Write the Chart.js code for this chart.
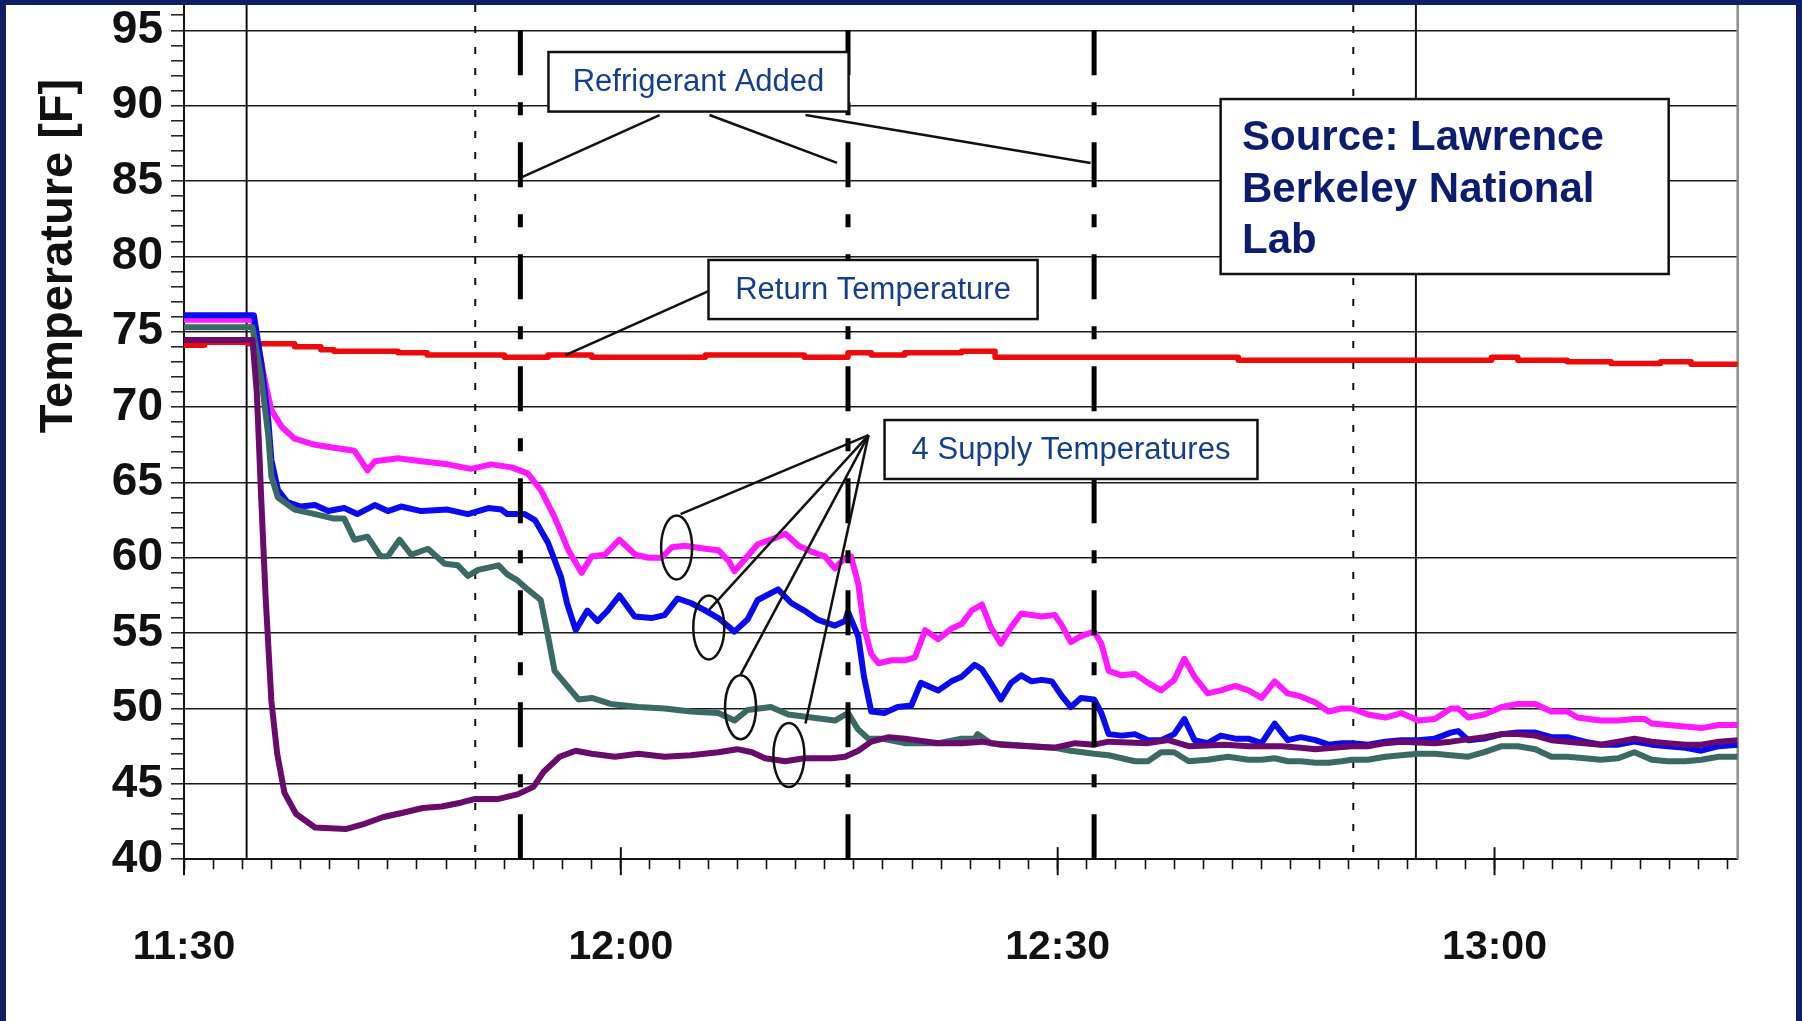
<!DOCTYPE html>
<html>
<head>
<meta charset="utf-8">
<title>Supply and return temperatures</title>
<script src="https://cdn.jsdelivr.net/npm/chart.js@4.4.1/dist/chart.umd.min.js"></script>
<style>
  html, body { margin: 0; padding: 0; background: #0e1f63; }
  canvas { display: block; }
</style>
</head>
<body>
<canvas id="tempChart" width="1802" height="1021"></canvas>
<script>
// time is in minutes after 11:30
const xTickLabels = ['11:30', '12:00', '12:30', '13:00'];
const xLabelMinutes = [0, 30, 60, 90];
const yTickLabels = [40, 45, 50, 55, 60, 65, 70, 75, 80, 85, 90, 95];

// vertical markers
const refrigerantMinutes = [23.1, 45.6, 62.5];
const solidGridMinutes = [4.3, 84.6];
const dottedGridMinutes = [20.0, 80.3];

// return temperature
const returnMinutes = [0, 1.4, 4.4, 7.6, 9.4, 10.3, 14.7, 16.7, 22.0, 25.0,
  28.0, 35.8, 42.6, 45.6, 47.2, 49.5, 53.4, 55.7, 72.4, 89.8,
  91.6, 95.0, 98.0, 101.4, 103.5, 106.7];
const returnTemps = [74.1, 74.3, 74.2, 74.0, 73.8, 73.7, 73.6, 73.45, 73.3, 73.45,
  73.3, 73.45, 73.3, 73.6, 73.45, 73.6, 73.7, 73.3, 73.1, 73.3,
  73.1, 73.0, 72.9, 73.0, 72.85, 72.8];

// supply 1 (magenta)
const magentaMinutes = [0, 4.7, 5.0, 5.5, 6.0, 6.7, 7.6, 9.0, 10.3, 11.7,
  12.2, 12.6, 13.1, 14.7, 16.3, 18.1, 19.7, 21.1, 22.5, 23.6,
  24.5, 25.45, 26.4, 27.3, 28.0, 28.9, 29.9, 31.0, 31.9, 32.8,
  33.5, 34.4, 35.8, 36.7, 37.4, 37.8, 38.7, 39.4, 40.3, 41.3,
  42.2, 43.1, 44.0, 44.7, 45.4, 45.8, 46.3, 46.7, 47.2, 47.7,
  48.6, 49.5, 50.2, 50.9, 51.8, 52.7, 53.4, 54.1, 54.8, 55.4,
  56.1, 56.8, 57.5, 58.2, 58.9, 59.8, 60.3, 60.9, 61.6, 62.5,
  63.0, 63.5, 64.4, 65.3, 66.2, 67.1, 68.0, 68.7, 69.4, 70.3,
  71.2, 72.2, 73.1, 74.0, 74.9, 75.8, 76.7, 77.7, 78.6, 79.5,
  80.2, 81.3, 82.5, 83.6, 84.75, 85.9, 87.0, 87.5, 88.2, 89.3,
  90.5, 91.6, 92.8, 93.9, 95.0, 95.7, 97.3, 98.5, 99.6, 100.3,
  100.8, 101.9, 103.1, 104.2, 105.4, 106.7];
const magentaTemps = [75.8, 75.8, 74.5, 72.0, 69.8, 68.7, 67.9, 67.5, 67.3, 67.1,
  66.4, 65.8, 66.4, 66.6, 66.4, 66.2, 65.9, 66.2, 66.0, 65.6,
  64.5, 62.7, 60.5, 59.0, 60.1, 60.2, 61.2, 60.2, 60.0, 60.0,
  60.7, 60.8, 60.6, 60.5, 59.8, 59.1, 60.1, 60.9, 61.2, 61.6,
  60.8, 60.4, 60.1, 59.3, 60.0, 60.1, 58.3, 55.4, 53.6, 53.0,
  53.2, 53.2, 53.4, 55.2, 54.6, 55.3, 55.6, 56.5, 56.9, 55.4,
  54.3, 55.4, 56.3, 56.2, 56.1, 56.2, 55.5, 54.4, 54.8, 55.1,
  54.3, 52.5, 52.2, 52.3, 51.7, 51.2, 51.9, 53.3, 52.1, 51.0,
  51.2, 51.5, 51.2, 50.7, 51.8, 51.0, 50.8, 50.4, 49.8, 50.0,
  50.0, 49.6, 49.4, 49.7, 49.2, 49.3, 50.0, 50.0, 49.4, 49.6,
  50.1, 50.3, 50.3, 49.8, 49.8, 49.4, 49.2, 49.2, 49.3, 49.3,
  49.0, 48.9, 48.8, 48.7, 48.9, 48.9];

// supply 2 (blue)
const blueMinutes = [0, 4.8, 5.3, 5.8, 6.0, 6.45, 7.1, 8.0, 9.0, 9.9,
  11.0, 11.9, 13.1, 14.0, 14.9, 16.3, 18.1, 19.5, 20.9, 21.8,
  22.2, 23.4, 24.1, 25.0, 25.9, 26.3, 26.9, 27.7, 28.4, 29.1,
  29.9, 30.95, 32.1, 33.0, 33.9, 34.8, 35.8, 36.7, 37.8, 38.7,
  39.4, 40.8, 41.7, 42.6, 43.5, 44.7, 45.4, 45.6, 46.3, 46.7,
  47.2, 48.1, 49.0, 49.95, 50.6, 51.8, 52.7, 53.4, 54.3, 54.8,
  55.4, 56.1, 56.8, 57.5, 58.2, 58.9, 59.6, 60.3, 60.9, 61.6,
  62.5, 63.0, 63.5, 64.4, 65.3, 66.2, 67.1, 68.0, 68.7, 69.4,
  70.3, 71.2, 72.2, 73.1, 74.0, 74.9, 75.8, 76.7, 77.7, 78.6,
  79.5, 80.2, 81.3, 82.5, 83.6, 84.75, 85.9, 87.0, 87.5, 88.2,
  89.3, 90.5, 91.6, 92.8, 93.9, 95.0, 96.2, 97.3, 98.5, 99.6,
  100.8, 101.9, 103.1, 104.2, 105.4, 106.7];
const blueTemps = [76.1, 76.1, 73.0, 69.0, 66.5, 64.5, 63.7, 63.4, 63.5, 63.1,
  63.3, 62.9, 63.5, 63.1, 63.4, 63.1, 63.2, 62.9, 63.3, 63.2,
  62.9, 62.9, 62.5, 61.0, 58.7, 57.0, 55.2, 56.5, 55.8, 56.5,
  57.5, 56.1, 56.0, 56.2, 57.3, 57.0, 56.5, 56.0, 55.1, 55.9,
  57.2, 57.9, 57.0, 56.5, 55.9, 55.5, 55.8, 56.4, 54.8, 52.1,
  49.8, 49.7, 50.1, 50.2, 51.7, 51.2, 51.8, 52.1, 52.9, 52.6,
  51.7, 50.6, 51.7, 52.2, 51.8, 51.9, 51.8, 50.8, 50.1, 50.7,
  50.6, 49.7, 48.3, 48.2, 48.3, 47.9, 47.9, 48.3, 49.3, 47.9,
  47.7, 48.2, 48.0, 48.0, 47.7, 49.0, 47.9, 48.1, 47.9, 47.6,
  47.7, 47.7, 47.6, 47.8, 47.9, 47.9, 48.0, 48.4, 48.5, 47.9,
  48.0, 48.3, 48.4, 48.4, 48.1, 48.1, 47.8, 47.6, 47.6, 47.8,
  47.6, 47.5, 47.4, 47.2, 47.5, 47.6];

// supply 3 (grey green)
const tealMinutes = [0, 4.7, 5.3, 5.8, 6.0, 6.45, 7.6, 9.0, 10.3, 11.0,
  11.7, 12.6, 13.5, 14.0, 14.8, 15.6, 16.75, 17.9, 18.8, 19.5,
  20.2, 21.6, 22.2, 22.9, 23.6, 24.5, 25.0, 25.45, 26.4, 27.1,
  28.0, 29.3, 31.2, 33.0, 34.8, 36.7, 37.8, 38.7, 40.3, 41.5,
  43.1, 44.7, 45.6, 46.3, 47.0, 47.9, 49.5, 51.8, 53.4, 54.3,
  54.5, 55.4, 56.8, 58.2, 59.8, 60.9, 62.5, 63.5, 64.4, 65.3,
  66.2, 67.1, 68.0, 69.0, 70.3, 71.7, 73.1, 74.0, 74.9, 75.8,
  76.7, 77.7, 78.6, 79.5, 80.2, 81.3, 82.5, 83.6, 84.75, 85.9,
  87.0, 88.2, 89.3, 90.5, 91.6, 92.8, 93.9, 95.0, 96.2, 97.3,
  98.5, 99.6, 100.8, 101.9, 103.1, 104.2, 105.4, 106.7];
const tealTemps = [75.3, 75.3, 72.0, 68.0, 65.4, 64.0, 63.2, 62.9, 62.6, 62.6,
  61.2, 61.4, 60.1, 60.1, 61.2, 60.2, 60.6, 59.6, 59.5, 58.8,
  59.2, 59.5, 58.9, 58.5, 57.9, 57.2, 54.8, 52.5, 51.4, 50.6,
  50.7, 50.3, 50.1, 50.0, 49.8, 49.7, 49.2, 49.9, 50.1, 49.6,
  49.4, 49.2, 49.7, 48.6, 48.0, 48.0, 47.7, 47.7, 48.0, 48.0,
  48.3, 47.7, 47.6, 47.5, 47.4, 47.2, 47.0, 46.9, 46.7, 46.5,
  46.5, 47.1, 47.1, 46.5, 46.6, 46.8, 46.6, 46.6, 46.7, 46.5,
  46.5, 46.4, 46.4, 46.5, 46.6, 46.6, 46.8, 46.9, 47.0, 47.0,
  46.9, 46.8, 47.1, 47.5, 47.5, 47.3, 46.8, 46.8, 46.7, 46.6,
  46.7, 47.1, 46.6, 46.5, 46.5, 46.6, 46.8, 46.8];

// supply 4 (purple)
const purpleMinutes = [0, 4.7, 5.0, 5.3, 5.6, 6.0, 6.4, 6.9, 7.7, 9.0,
  11.1, 12.4, 13.7, 15.1, 16.4, 17.7, 19.0, 20.0, 21.6, 22.9,
  24.0, 24.7, 25.8, 26.9, 28.0, 29.6, 31.2, 33.0, 34.8, 36.7,
  38.0, 39.0, 39.9, 41.3, 42.6, 44.5, 45.4, 46.3, 47.2, 48.4,
  49.5, 51.8, 53.4, 54.8, 56.1, 58.0, 59.8, 61.2, 62.5, 63.5,
  66.2, 67.6, 69.0, 71.5, 73.1, 75.4, 76.7, 77.7, 80.2, 81.3,
  82.5, 83.6, 85.9, 87.0, 89.3, 90.5, 91.6, 92.8, 93.9, 95.0,
  97.3, 98.5, 99.6, 100.8, 101.9, 103.1, 104.2, 105.4, 106.7];
const purpleTemps = [74.45, 74.45, 71.0, 64.0, 57.5, 50.5, 47.0, 44.4, 43.0, 42.1,
  42.0, 42.35, 42.8, 43.1, 43.4, 43.5, 43.75, 44.0, 44.0, 44.3,
  44.8, 45.8, 46.8, 47.2, 47.0, 46.8, 47.0, 46.8, 46.9, 47.1,
  47.3, 47.1, 46.7, 46.5, 46.7, 46.7, 46.8, 47.2, 47.8, 48.1,
  48.0, 47.7, 47.7, 47.8, 47.6, 47.5, 47.4, 47.7, 47.6, 47.8,
  47.7, 47.9, 47.5, 47.6, 47.5, 47.5, 47.4, 47.3, 47.5, 47.5,
  47.7, 47.8, 47.7, 47.8, 48.1, 48.3, 48.3, 48.2, 47.9, 47.8,
  47.6, 47.8, 48.0, 47.8, 47.7, 47.6, 47.6, 47.8, 47.9];

function toPoints(minutes, temps) {
  return minutes.map((m, i) => ({ x: m, y: temps[i] }));
}

// annotation geometry, in minutes / degrees F
const refrigerantNote = {
  box: [25.03, 93.56, 45.64, 89.61],
  text: 'Refrigerant Added',
  leaders: [[32.66, 89.38, 23.25, 85.27], [36.09, 89.38, 44.85, 86.2], [42.68, 89.38, 62.26, 86.2]]
};
const returnNote = {
  box: [36.02, 79.76, 58.62, 75.84],
  text: 'Return Temperature',
  leaders: [[36.02, 77.7, 26.2, 73.45]]
};
const supplyNote = {
  box: [48.11, 69.14, 73.72, 65.23],
  text: '4 Supply Temperatures',
  apex: [47.01, 68.14],
  rings: [[33.83, 60.69, 34.1, 62.9], [36.04, 55.38, 36.04, 56.53],
          [38.22, 50.08, 38.22, 52.23], [41.54, 46.91, 42.68, 49.01]]
};
const sourceNote = {
  box: [71.19, 90.44, 101.96, 78.83],
  x: 72.66,
  lines: [['Source: Lawrence', 87.06], ['Berkeley National', 83.61], ['Lab', 80.22]]
};

const plainFont = "'Liberation Sans', Arial, sans-serif";
const noteColor = '#153f8e';
const inkColor = '#111111';

const framePlugin = {
  id: 'frame',
  beforeDraw(chart) {
    const ctx = chart.ctx;
    ctx.save();
    ctx.fillStyle = '#0e1f63';
    ctx.fillRect(0, 0, chart.width, chart.height);
    ctx.fillStyle = '#ffffff';
    ctx.fillRect(6, 5, chart.width - 12, chart.height - 5);
    ctx.restore();
  }
};

function seg(ctx, x1, y1, x2, y2) {
  ctx.beginPath();
  ctx.moveTo(x1, y1);
  ctx.lineTo(x2, y2);
  ctx.stroke();
}

const guidePlugin = {
  id: 'guides',
  beforeDatasetsDraw(chart) {
    const { ctx, chartArea: a } = chart;
    const x = chart.scales.x;
    ctx.save();
    ctx.strokeStyle = inkColor;
    ctx.lineWidth = 2;
    solidGridMinutes.forEach(m => {
      const px = x.getPixelForValue(m);
      seg(ctx, px, a.top, px, a.bottom);
    });
    ctx.setLineDash([7, 14]);
    dottedGridMinutes.forEach(m => {
      const px = x.getPixelForValue(m);
      seg(ctx, px, a.top, px, a.bottom);
    });
    ctx.setLineDash([]);
    ctx.strokeStyle = '#8c8c8c';
    ctx.lineWidth = 2.5;
    seg(ctx, a.right, a.top, a.right, a.bottom);
    ctx.restore();
  },
  afterDatasetsDraw(chart) {
    const { ctx, chartArea: a } = chart;
    const x = chart.scales.x;
    const y = chart.scales.y;
    const px = v => x.getPixelForValue(v);
    const py = v => y.getPixelForValue(v);
    ctx.save();

    // refrigerant added markers
    ctx.strokeStyle = '#000';
    ctx.lineWidth = 5;
    ctx.setLineDash([45, 27, 13, 27]);
    refrigerantMinutes.forEach(m => seg(ctx, px(m), py(95), px(m), a.bottom));
    ctx.setLineDash([]);

    // longer ticks at the labelled times
    ctx.lineWidth = 2;
    ctx.strokeStyle = inkColor;
    xLabelMinutes.forEach(m => seg(ctx, px(m), a.bottom - 12, px(m), a.bottom + 16));

    const drawBox = (note, font, color) => {
      const [l, t, r, b] = note.box;
      const x1 = px(l), y1 = py(t), x2 = px(r), y2 = py(b);
      ctx.fillStyle = '#fff';
      ctx.fillRect(x1, y1, x2 - x1, y2 - y1);
      ctx.lineWidth = 2.5;
      ctx.strokeStyle = inkColor;
      ctx.strokeRect(x1, y1, x2 - x1, y2 - y1);
      if (note.text) {
        ctx.font = font;
        ctx.fillStyle = color;
        ctx.textAlign = 'center';
        ctx.textBaseline = 'middle';
        ctx.fillText(note.text, (x1 + x2) / 2, (y1 + y2) / 2 + 1);
      }
    };

    // leader lines and rings
    ctx.lineWidth = 2.5;
    ctx.strokeStyle = inkColor;
    [refrigerantNote, returnNote].forEach(n => n.leaders.forEach(([a1, b1, a2, b2]) =>
      seg(ctx, px(a1), py(b1), px(a2), py(b2))));
    supplyNote.rings.forEach(([cx, cy, ex, ey]) => {
      seg(ctx, px(supplyNote.apex[0]), py(supplyNote.apex[1]), px(ex), py(ey));
      ctx.beginPath();
      ctx.ellipse(px(cx), py(cy), 15.5, 32, 0, 0, Math.PI * 2);
      ctx.stroke();
    });

    drawBox(refrigerantNote, '31px ' + plainFont, noteColor);
    drawBox(returnNote, '31px ' + plainFont, noteColor);
    drawBox(supplyNote, '31px ' + plainFont, noteColor);
    drawBox(sourceNote, '', '');
    ctx.font = 'bold 42px ' + plainFont;
    ctx.fillStyle = '#0c1c70';
    ctx.textAlign = 'left';
    ctx.textBaseline = 'alphabetic';
    sourceNote.lines.forEach(([txt, v]) => ctx.fillText(txt, px(sourceNote.x), py(v)));

    // axis title
    ctx.translate(71.5, 256);
    ctx.rotate(-Math.PI / 2);
    ctx.font = 'bold 47px ' + plainFont;
    ctx.fillStyle = inkColor;
    ctx.textAlign = 'center';
    ctx.textBaseline = 'alphabetic';
    ctx.fillText('Temperature [F]', 0, 0);
    ctx.restore();
  }
};

const lineStyle = { pointRadius: 0, tension: 0, fill: false, borderJoinStyle: 'round' };

new Chart(document.getElementById('tempChart').getContext('2d'), {
  type: 'line',
  data: {
    datasets: [
      Object.assign({ label: 'Supply 4', data: toPoints(purpleMinutes, purpleTemps), borderColor: '#690a6c', borderWidth: 6 }, lineStyle),
      Object.assign({ label: 'Supply 3', data: toPoints(tealMinutes, tealTemps), borderColor: '#3b6a66', borderWidth: 6 }, lineStyle),
      Object.assign({ label: 'Supply 2', data: toPoints(blueMinutes, blueTemps), borderColor: '#0a0af0', borderWidth: 6 }, lineStyle),
      Object.assign({ label: 'Supply 1', data: toPoints(magentaMinutes, magentaTemps), borderColor: '#ff19ff', borderWidth: 6 }, lineStyle),
      Object.assign({ label: 'Return', data: toPoints(returnMinutes, returnTemps), borderColor: '#ee0a0a', borderWidth: 5.5, stepped: true }, lineStyle)
    ]
  },
  options: {
    responsive: false,
    animation: false,
    devicePixelRatio: 1,
    layout: { padding: { left: 0, top: 5, right: 64.3, bottom: 0 } },
    plugins: { legend: { display: false }, tooltip: { enabled: false } },
    scales: {
      x: {
        type: 'linear',
        position: 'bottom',
        min: 0,
        max: 106.7,
        afterFit: s => { s.height = 161.8; s.paddingLeft = 0; s.paddingRight = 0; },
        border: { color: inkColor, width: 2 },
        grid: { drawOnChartArea: false, drawTicks: true, tickLength: 10, tickColor: inkColor, tickWidth: 1.6 },
        ticks: {
          stepSize: 2,
          includeBounds: false,
          autoSkip: false,
          maxRotation: 0,
          padding: 54,
          color: inkColor,
          font: { family: plainFont, size: 41, weight: 'bold' },
          callback: v => {
            const i = xLabelMinutes.indexOf(v);
            return i >= 0 ? xTickLabels[i] : '';
          }
        }
      },
      y: {
        min: 40,
        max: 96.68,
        afterFit: s => { s.width = 184; s.paddingTop = 0; s.paddingBottom = 0; },
        border: { color: inkColor, width: 2 },
        grid: {
          color: c => (c.tick && yTickLabels.includes(c.tick.value)) ? '#1a1a1a' : 'rgba(0,0,0,0)',
          lineWidth: 1.6,
          tickLength: 13,
          tickColor: '#1a1a1a',
          tickWidth: 1.5
        },
        ticks: {
          stepSize: 1,
          includeBounds: false,
          autoSkip: false,
          padding: 8,
          color: inkColor,
          font: { family: plainFont, size: 46, weight: 'bold' },
          callback: v => yTickLabels.includes(v) ? String(v) : ''
        }
      }
    }
  },
  plugins: [framePlugin, guidePlugin]
});
</script>
</body>
</html>
